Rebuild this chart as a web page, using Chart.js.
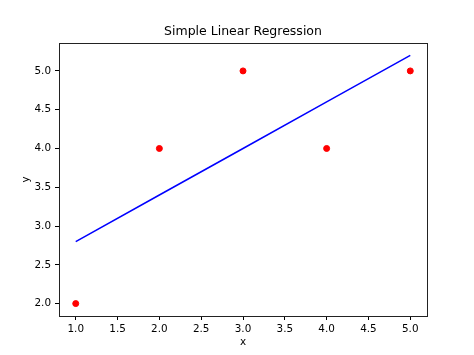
<!DOCTYPE html>
<html>
<head>
<meta charset="utf-8">
<script src="https://cdn.jsdelivr.net/npm/chart.js@4"></script>
<style>
  body { margin: 0; background: #fff; }
  canvas { display: block; }
</style>
</head>
<body>
<canvas id="chart" width="474" height="355"></canvas>
<script>
  // Data
  const xValues = [1, 2, 3, 4, 5];
  const yValues = [2, 4, 5, 4, 5];
  const fitValues = [2.8, 3.4, 4.0, 4.6, 5.2];
  const xTicks = [1.0, 1.5, 2.0, 2.5, 3.0, 3.5, 4.0, 4.5, 5.0];
  const yTicks = [2.0, 2.5, 3.0, 3.5, 4.0, 4.5, 5.0];

  const font = { family: 'DejaVu Sans', size: 10.4 };

  // box round the plot area, like matplotlib spines
  const frame = {
    id: 'frame',
    afterDraw(chart) {
      const { ctx, chartArea: a } = chart;
      ctx.save();
      ctx.strokeStyle = '#222';
      ctx.lineWidth = 1;
      ctx.strokeRect(Math.round(a.left) + 0.5, Math.round(a.top) + 0.5,
        Math.round(a.right - a.left), Math.round(a.bottom - a.top));
      ctx.restore();
    }
  };

  const ctx = document.getElementById('chart').getContext('2d');
  new Chart(ctx, {
    type: 'scatter',
    data: {
      datasets: [{
        label: 'data',
        data: xValues.map((x, i) => ({ x: x, y: yValues[i] })),
        backgroundColor: '#ff0000',
        borderColor: '#ff0000',
        pointRadius: 3,
        pointHoverRadius: 3
      }, {
        label: 'fit',
        data: xValues.map((x, i) => ({ x: x, y: fitValues[i] })),
        showLine: true,
        borderColor: '#0000ff',
        borderWidth: 1.5,
        pointRadius: 0,
        fill: false
      }]
    },
    options: {
      responsive: false,
      animation: false,
      layout: { padding: { left: 0, right: 47, top: 0, bottom: 0 } },
      plugins: {
        legend: { display: false },
        tooltip: { enabled: false },
        title: {
          display: true,
          text: 'Simple Linear Regression',
          fullSize: false,
          color: '#000',
          font: { family: 'DejaVu Sans', size: 12.5, weight: 'normal' },
          padding: { top: 24, bottom: 4 }
        }
      },
      scales: {
        x: {
          type: 'linear',
          min: 0.8,
          max: 5.2,
          afterBuildTicks: s => { s.ticks = xTicks.map(v => ({ value: v })); },
          afterFit: s => { s.height = 39; },
          ticks: { color: '#000', font: font, padding: 3, maxRotation: 0, callback: v => v.toFixed(1) },
          grid: { drawOnChartArea: false, tickLength: 4, color: '#000' },
          border: { display: false },
          title: { display: true, text: 'x', color: '#000', font: font, padding: { top: 0, bottom: 6 } }
        },
        y: {
          type: 'linear',
          min: 1.84,
          max: 5.36,
          afterBuildTicks: s => { s.ticks = yTicks.map(v => ({ value: v })); },
          afterFit: s => { s.width = 59; },
          ticks: { color: '#000', font: font, padding: 4, callback: v => v.toFixed(1) },
          grid: { drawOnChartArea: false, tickLength: 4, color: '#000' },
          border: { display: false },
          title: { display: true, text: 'y', color: '#000', font: font, padding: { top: 20, bottom: 0 } }
        }
      }
    },
    plugins: [frame]
  });
</script>
</body>
</html>
